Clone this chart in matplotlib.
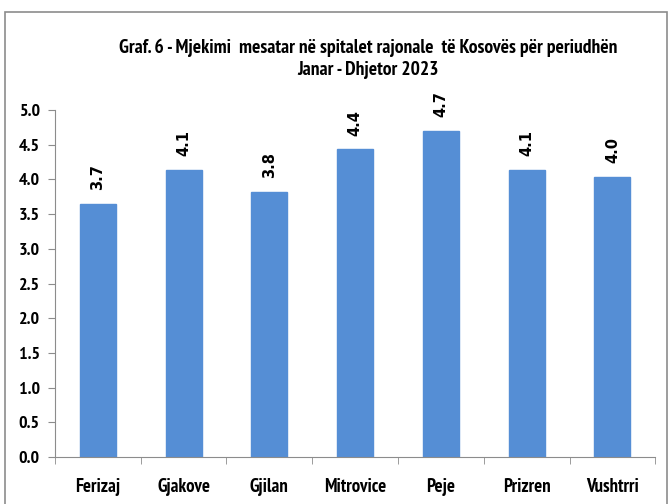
import matplotlib.pyplot as plt
import numpy as np
from matplotlib.patches import Rectangle

# data
spitalet = ['Ferizaj', 'Gjakove', 'Gjilan', 'Mitrovice', 'Peje', 'Prizren', 'Vushtrri']
mesatarja = [3.65, 4.13, 3.82, 4.43, 4.70, 4.13, 4.03]
etiketat = ['3.7', '4.1', '3.8', '4.4', '4.7', '4.1', '4.0']
titulli = 'Graf. 6 - Mjekimi  mesatar në spitalet rajonale  të Kosovës për periudhën\nJanar - Dhjetor 2023'

plt.rcParams['font.family'] = ['PT Sans Narrow', 'DejaVu Sans']

fig = plt.figure(figsize=(6.7, 5.04), dpi=100)
ax = fig.add_axes([0.082, 0.093, 0.896, 0.689])

# border round the whole chart
fig.patches.append(Rectangle((0.008, -0.01), 0.988, 0.987, transform=fig.transFigure,
                             fill=False, edgecolor='#8c8c8c', linewidth=1.2))

x = np.arange(len(spitalet))
bars = ax.bar(x, mesatarja, width=0.42, color='#558ed5', edgecolor='#558ed5')

# value labels, turned upright
for xi, v, lab in zip(x, mesatarja, etiketat):
    ax.text(xi, v + 0.2, lab, rotation=90, ha='center', va='bottom',
            fontsize=10.5, fontweight='bold', family=['DejaVu Sans'])

ax.set_xlim(-0.5, len(spitalet) - 0.5)
ax.set_ylim(0, 5.0)
yt = np.arange(0, 5.01, 0.5)
ax.set_yticks(yt)
ax.set_yticklabels(['%.1f' % t for t in yt], fontsize=13, fontweight='bold')

ax.set_xticks(x)
ax.set_xticklabels(spitalet, fontsize=13.5, fontweight='bold')
ax.tick_params(axis='x', length=0, pad=15)
ax.set_xticks(np.arange(-0.5, len(spitalet), 1), minor=True)
ax.tick_params(axis='x', which='minor', length=5, color='#8c8c8c', direction='out')
ax.tick_params(axis='y', length=5, color='#8c8c8c', direction='out', pad=6)

for s in ['top', 'right']:
    ax.spines[s].set_visible(False)
for s in ['left', 'bottom']:
    ax.spines[s].set_color('#8c8c8c')

fig.text(0.549, 0.884, titulli, ha='center', va='center', fontsize=14,
         fontweight='bold', linespacing=1.3)

fig.savefig('out.png', dpi=100)
